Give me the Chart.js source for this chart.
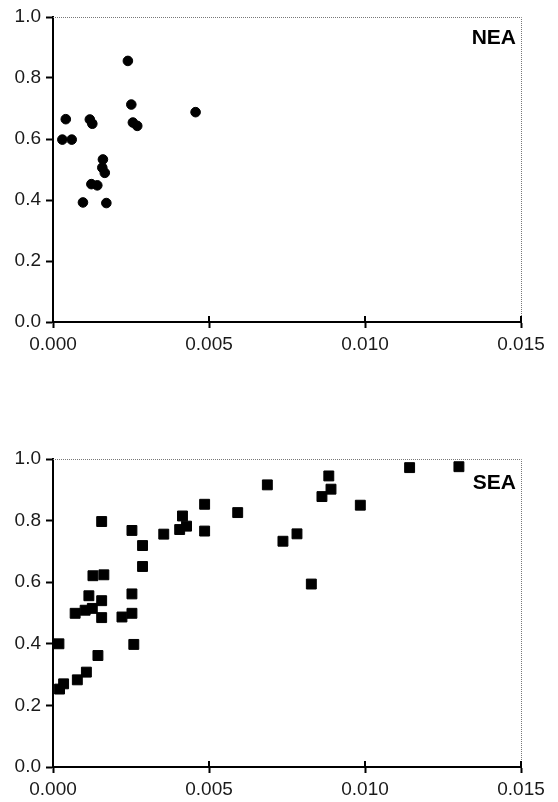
<!DOCTYPE html>
<html>
<head>
<meta charset="utf-8">
<script src="https://cdn.jsdelivr.net/npm/chart.js@4.4.1/dist/chart.umd.min.js"></script>
<style>
    html, body { margin: 0; padding: 0; background: #fff; }
    body { width: 558px; height: 802px; position: relative; overflow: hidden; }
    .box { position: absolute; left: 0; width: 558px; }
    #boxTop { top: 0; height: 400px; }
    #boxBottom { top: 440px; height: 362px; }
</style>
</head>
<body>
<div class="box" id="boxTop"><canvas id="neaChart"></canvas></div>
<div class="box" id="boxBottom"><canvas id="seaChart"></canvas></div>
<script>
// NEA panel (circles)
const neaX = [0.00240, 0.00041, 0.00118, 0.00126, 0.00030, 0.00060, 0.00251, 0.00256, 0.00270,
    0.00457, 0.00160, 0.00158, 0.00166, 0.00123, 0.00142, 0.00096, 0.00171];
const neaY = [0.856, 0.665, 0.664, 0.650, 0.598, 0.598, 0.713, 0.654, 0.643,
    0.688, 0.533, 0.506, 0.489, 0.452, 0.448, 0.392, 0.390];

// SEA panel (squares)
const seaX = [0.00019, 0.00021, 0.00034, 0.00078, 0.00107, 0.00144, 0.00071, 0.00103, 0.00126,
    0.00115, 0.00128, 0.00163, 0.00156, 0.00156, 0.00156, 0.00221, 0.00253, 0.00253,
    0.00259, 0.00253, 0.00287, 0.00287, 0.00355, 0.00406, 0.00415, 0.00428, 0.00486,
    0.00486, 0.00592, 0.00687, 0.00737, 0.00782, 0.00828, 0.00862, 0.00884, 0.00891,
    0.00985, 0.01143, 0.01301];
const seaY = [0.400, 0.253, 0.270, 0.283, 0.308, 0.362, 0.499, 0.509, 0.515,
    0.556, 0.621, 0.624, 0.540, 0.485, 0.797, 0.487, 0.499, 0.562,
    0.398, 0.768, 0.719, 0.651, 0.756, 0.771, 0.815, 0.782, 0.853,
    0.766, 0.826, 0.916, 0.733, 0.757, 0.594, 0.878, 0.945, 0.902,
    0.850, 0.972, 0.975];

const xTicks = [0, 0.005, 0.010, 0.015];
const yTicks = [0, 0.2, 0.4, 0.6, 0.8, 1.0];

const tickFont = { family: '"Liberation Sans", Arial, sans-serif', size: 19 };

// dotted top/right frame, inner half of x ticks, panel label
const framePlugin = {
    id: 'frame',
    beforeDatasetsDraw(chart, args, opts) {
        const ctx = chart.ctx;
        const a = chart.chartArea;
        ctx.save();
        ctx.strokeStyle = '#777';
        ctx.lineWidth = 1;
        ctx.setLineDash([1, 1]);
        ctx.beginPath();
        ctx.moveTo(a.left, a.top + 0.5);
        ctx.lineTo(a.right + 0.5, a.top + 0.5);
        ctx.lineTo(a.right + 0.5, a.bottom);
        ctx.stroke();
        ctx.setLineDash([]);
        ctx.strokeStyle = '#000';
        ctx.lineWidth = 2;
        const xs = chart.scales.x;
        xs.ticks.forEach((t, i) => {
            if (i === 0) return;
            const px = xs.getPixelForTick(i);
            ctx.beginPath();
            ctx.moveTo(px, a.bottom);
            ctx.lineTo(px, a.bottom - 6);
            ctx.stroke();
        });
        ctx.restore();
    },
    afterDraw(chart, args, opts) {
        const ctx = chart.ctx;
        const a = chart.chartArea;
        ctx.save();
        ctx.fillStyle = '#000';
        ctx.font = 'bold 21px "Liberation Sans", Arial, sans-serif';
        ctx.textAlign = 'right';
        ctx.textBaseline = 'top';
        ctx.fillText(opts.label, a.right - 5, a.top + opts.labelTop);
        ctx.restore();
    }
};

function makeChart(id, xs, ys, style, radius, label, labelTop, padTop, axisHeight) {
    const points = xs.map((x, i) => ({ x: x, y: ys[i] }));
    return new Chart(document.getElementById(id), {
        type: 'scatter',
        data: {
            datasets: [{
                data: points,
                pointStyle: style,
                pointRadius: radius,
                pointHoverRadius: radius,
                pointBackgroundColor: '#000',
                pointBorderColor: '#000',
                pointBorderWidth: 1
            }]
        },
        plugins: [framePlugin],
        options: {
            responsive: true,
            maintainAspectRatio: false,
            animation: false,
            events: [],
            layout: { padding: { top: padTop, right: 37, left: 0, bottom: 0 } },
            plugins: {
                legend: { display: false },
                tooltip: { enabled: false },
                frame: { label: label, labelTop: labelTop }
            },
            scales: {
                x: {
                    type: 'linear',
                    min: 0,
                    max: 0.015,
                    afterBuildTicks: s => { s.ticks = xTicks.map(v => ({ value: v })); },
                    afterFit: s => { s.height = axisHeight; },
                    border: { display: true, color: '#000', width: 2 },
                    grid: { drawOnChartArea: false, color: '#000', tickColor: '#000', tickWidth: 2, tickLength: 6 },
                    ticks: {
                        color: '#1a1a1a',
                        font: tickFont,
                        padding: 5,
                        maxRotation: 0,
                        callback: v => v.toFixed(3)
                    }
                },
                y: {
                    type: 'linear',
                    min: 0,
                    max: 1,
                    afterBuildTicks: s => { s.ticks = yTicks.map(v => ({ value: v })); },
                    afterFit: s => { s.width = 53; },
                    border: { display: true, color: '#000', width: 2 },
                    grid: { drawOnChartArea: false, color: '#000', tickColor: '#000', tickWidth: 2, tickLength: 7 },
                    ticks: {
                        color: '#1a1a1a',
                        font: tickFont,
                        padding: 5,
                        callback: v => v.toFixed(1)
                    }
                }
            }
        }
    });
}

makeChart('neaChart', neaX, neaY, 'circle', 4.8, 'NEA', 11, 17, 78);
makeChart('seaChart', seaX, seaY, 'rect', 7, 'SEA', 14, 19, 35);
</script>
</body>
</html>
